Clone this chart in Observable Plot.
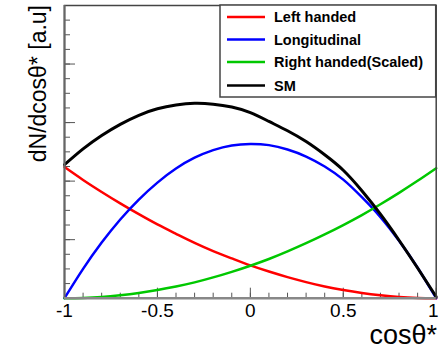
<!DOCTYPE html>
<html>
<head>
<meta charset="utf-8">
<script src="https://cdn.jsdelivr.net/npm/d3@7"></script>
<script src="https://cdn.jsdelivr.net/npm/@observablehq/plot@0.6"></script>
<style>
  html, body { margin: 0; padding: 0; background: #fff; }
  #chart { width: 439px; height: 350px; position: relative; }
</style>
</head>
<body>
<div id="chart"></div>
<script>
// ---- data ----
const cosTheta = [-1, -0.9, -0.8, -0.7, -0.6, -0.5, -0.4, -0.3, -0.2, -0.1, 0, 0.1, 0.2, 0.3, 0.4, 0.5, 0.6, 0.7, 0.8, 0.9, 1];
const leftHanded = [0.448, 0.404, 0.363, 0.324, 0.287, 0.252, 0.220, 0.189, 0.161, 0.136, 0.112, 0.091, 0.072, 0.055, 0.040, 0.028, 0.018, 0.010, 0.004, 0.001, 0];
const longitudinal = [0, 0.100, 0.190, 0.269, 0.337, 0.395, 0.443, 0.480, 0.506, 0.522, 0.527, 0.523, 0.508, 0.484, 0.450, 0.405, 0.345, 0.277, 0.196, 0.104, 0];
const rightHandedScaled = [0, 0.001, 0.004, 0.010, 0.018, 0.028, 0.040, 0.054, 0.071, 0.090, 0.111, 0.134, 0.160, 0.188, 0.218, 0.250, 0.284, 0.321, 0.360, 0.401, 0.444];
const sm = [0.456, 0.510, 0.556, 0.594, 0.625, 0.647, 0.660, 0.666, 0.663, 0.653, 0.634, 0.604, 0.572, 0.535, 0.490, 0.437, 0.367, 0.287, 0.198, 0.103, 0.005];

const seriesNames = ["Left handed", "Longitudinal", "Right handed(Scaled)", "SM"];
const seriesColors = ["#ff0000", "#0000ff", "#00c800", "#000000"];
const seriesValues = [leftHanded, longitudinal, rightHandedScaled, sm];

const xMajorTicks = [-1, -0.5, 0, 0.5, 1];
const xTickLabels = ["-1", "-0.5", "0", "0.5", "1"];
const xMinorTicks = d3.range(-10, 11).map(i => i / 10);
const yMajorTicks = [0, 0.2, 0.4, 0.6, 0.8, 1];
const yMinorTicks = d3.range(0, 21).map(i => i / 20);

const xTitle = "cosθ*";
const yTitle = "dN/dcosθ* [a.u]";

// ---- layout ----
const W = 439, H = 350;
const mL = 64, mR = 3.3, mT = 5, mB = 52.3;
const plotW = W - mL - mR, plotH = H - mT - mB;
const font = "'Liberation Sans', Arial, Helvetica, sans-serif";

const rows = [];
seriesValues.forEach((vals, s) => {
  vals.forEach((v, i) => rows.push({series: seriesNames[s], x: cosTheta[i], y: v}));
});

const labelOf = d => xTickLabels[xMajorTicks.indexOf(d)];

const chart = Plot.plot({
  width: W, height: H,
  marginLeft: mL, marginRight: mR, marginTop: mT, marginBottom: mB,
  style: {fontFamily: font, background: "#fff", overflow: "visible"},
  x: {domain: [-1, 1]},
  y: {domain: [0, 1]},
  color: {domain: seriesNames, range: seriesColors},
  marks: [
    // minor and major ticks (inside the frame)
    Plot.ruleX(xMinorTicks, {x: d => d, insetTop: plotH - 5, stroke: "#555", strokeWidth: 1}),
    Plot.ruleX(xMajorTicks, {x: d => d, insetTop: plotH - 10, stroke: "#555", strokeWidth: 1}),
    Plot.ruleY(yMinorTicks, {y: d => d, insetRight: plotW - 6, stroke: "#555", strokeWidth: 1}),
    Plot.ruleY(yMajorTicks, {y: d => d, insetRight: plotW - 11, stroke: "#555", strokeWidth: 1}),
    Plot.axisX(xMajorTicks.slice(0, -1), {
      tickSize: 0, tickPadding: 5, tickFormat: labelOf,
      fontSize: 19, fill: "#000", label: null
    }),
    Plot.axisX(xMajorTicks.slice(-1), {
      tickSize: 0, tickPadding: 5, tickFormat: labelOf, dx: -3,
      fontSize: 19, fill: "#000", label: null
    }),
    Plot.axisY({ticks: [], label: null, tickSize: 0}),
    Plot.line(rows, {x: "x", y: "y", z: "series", stroke: "series", strokeWidth: d => d.series === "SM" ? 3 : 2.5, curve: "natural"}),
    Plot.frame({stroke: "#444", strokeWidth: 1.5}),
    Plot.ruleX([-1], {stroke: "#666", strokeWidth: 2}),
    Plot.ruleY([0], {stroke: "#888", strokeWidth: 2.5})
  ]
});

document.getElementById("chart").appendChild(chart);

// ---- titles and legend drawn into the same svg ----
const svg = d3.select(chart);

svg.append("text")
  .attr("x", 437).attr("y", 344)
  .attr("text-anchor", "end")
  .style("font-family", font).style("font-size", "27px").attr("fill", "#000")
  .text(xTitle);

svg.append("text")
  .attr("transform", "translate(46,5) rotate(-90)")
  .attr("text-anchor", "end")
  .style("font-family", font).style("font-size", "23px").attr("fill", "#000")
  .text(yTitle);

const lg = svg.append("g");
lg.append("rect")
  .attr("x", 220).attr("y", 5).attr("width", W - mR - 220).attr("height", 92)
  .attr("fill", "#fff").attr("stroke", "#444").attr("stroke-width", 1.5);
const rowY = [17, 39.5, 62, 85.5];
seriesNames.forEach((name, i) => {
  lg.append("line")
    .attr("x1", 227).attr("x2", 265).attr("y1", rowY[i]).attr("y2", rowY[i])
    .attr("stroke", seriesColors[i]).attr("stroke-width", 2.5);
  lg.append("text")
    .attr("x", 274).attr("y", rowY[i] + 5)
    .attr("text-anchor", "start")
    .style("font-family", font).style("font-size", "14.5px").style("font-weight", "bold")
    .attr("fill", "#000")
    .text(name);
});
</script>
</body>
</html>
